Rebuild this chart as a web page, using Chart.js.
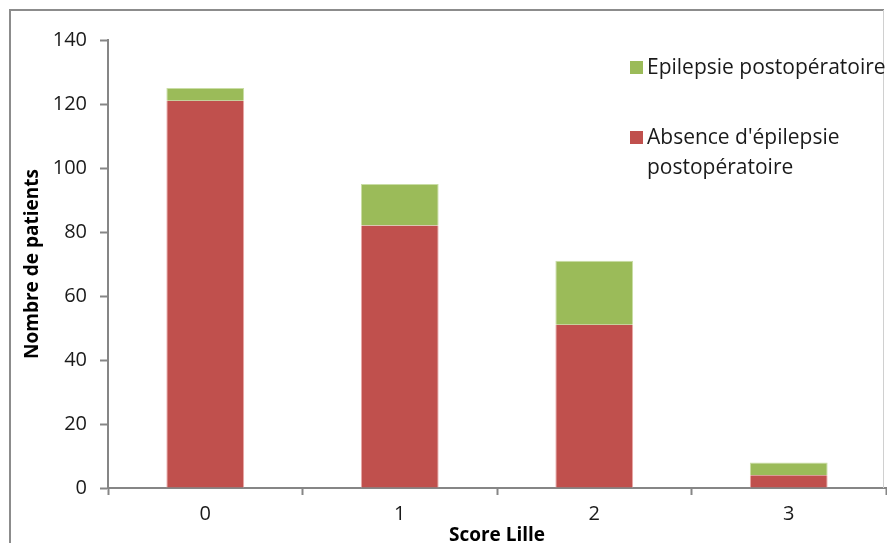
<!DOCTYPE html>
<html>
<head>
<meta charset="utf-8">
<script src="https://cdn.jsdelivr.net/npm/chart.js@4"></script>
<style>
  html, body { margin: 0; padding: 0; background: #ffffff; }
  #wrap { width: 887px; height: 543px; position: relative; }
</style>
</head>
<body>
<div id="wrap"><canvas id="c" width="887" height="543"></canvas></div>
<script>
// Lille score categories and patient counts
const scores = ['0', '1', '2', '3'];
const sansEpilepsie = [121, 82, 51, 4];   // Absence d'épilepsie postopératoire
const avecEpilepsie = [4, 13, 20, 4];     // Epilepsie postopératoire
const yTicks = [0, 20, 40, 60, 80, 100, 120, 140];

const FONT = 'Open Sans, Lato, sans-serif';
const AXIS = '#868686';

// Outer frame and legend drawn on the canvas
const framePlugin = {
  id: 'frame',
  afterDraw(chart) {
    const ctx = chart.ctx;
    ctx.save();
    ctx.strokeStyle = '#8c8c8c';
    ctx.lineWidth = 2;
    ctx.beginPath();
    ctx.moveTo(10, 543);
    ctx.lineTo(10, 10);
    ctx.lineTo(884, 10);
    ctx.stroke();
    ctx.strokeStyle = '#d0d0d0';
    ctx.lineWidth = 1;
    ctx.beginPath();
    ctx.moveTo(883.5, 10);
    ctx.lineTo(883.5, 488);
    ctx.stroke();

    // legend
    const items = [
      { color: chart.data.datasets[1].backgroundColor, lines: ['Epilepsie postopératoire'], y: 68 },
      { color: chart.data.datasets[0].backgroundColor, lines: ["Absence d'épilepsie", 'postopératoire'], y: 138 }
    ];
    ctx.font = '21px ' + FONT;
    ctx.textBaseline = 'middle';
    ctx.textAlign = 'left';
    items.forEach(it => {
      ctx.fillStyle = it.color;
      ctx.fillRect(630, it.y - 7, 13, 13);
      ctx.fillStyle = '#1a1a1a';
      it.lines.forEach((t, i) => ctx.fillText(t, 647, it.y + i * 30));
    });
    ctx.restore();
  }
};

new Chart(document.getElementById('c'), {
  type: 'bar',
  data: {
    labels: scores,
    datasets: [
      { label: "Absence d'épilepsie postopératoire", data: sansEpilepsie,
        backgroundColor: '#C0504D', borderColor: '#E9A9A7', borderWidth: { left: 1, right: 1 } },
      { label: 'Epilepsie postopératoire', data: avecEpilepsie,
        backgroundColor: '#9BBB59', borderColor: '#C9DDA5', borderWidth: { left: 1, right: 1, top: 1 } }
    ]
  },
  options: {
    responsive: false,
    animation: false,
    events: [],
    layout: { padding: { top: 40, right: 1, left: 0, bottom: 0 } },
    datasets: { bar: { categoryPercentage: 1, barPercentage: 0.4 } },
    plugins: {
      legend: { display: false },
      tooltip: { enabled: false }
    },
    scales: {
      x: {
        stacked: true,
        offset: true,
        grid: { display: true, drawOnChartArea: false, drawTicks: true, tickLength: 7, tickColor: AXIS, tickWidth: 2, offset: true },
        border: { display: true, color: AXIS, width: 2 },
        ticks: { color: '#1a1a1a', font: { family: FONT, size: 20 }, padding: 7 },
        title: { display: true, text: 'Score Lille', color: '#000', font: { family: FONT, size: 19, weight: 'bold', lineHeight: 0.8 }, padding: { top: 0, bottom: 0 } },
        afterFit(scale) { scale.height = 55; }
      },
      y: {
        stacked: true,
        min: 0, max: 140,
        afterBuildTicks(scale) { scale.ticks = yTicks.map(v => ({ value: v })); },
        grid: { display: true, drawOnChartArea: false, drawTicks: true, tickLength: 8, tickColor: AXIS, tickWidth: 2 },
        border: { display: true, color: AXIS, width: 2 },
        ticks: { color: '#1a1a1a', font: { family: FONT, size: 20 }, padding: 13 },
        title: { display: true, text: 'Nombre de patients', color: '#000', font: { family: FONT, size: 19, weight: 'bold' }, padding: { top: 21, bottom: 0 } },
        afterFit(scale) { scale.width = 108; }
      }
    }
  },
  plugins: [framePlugin]
});
</script>
</body>
</html>
